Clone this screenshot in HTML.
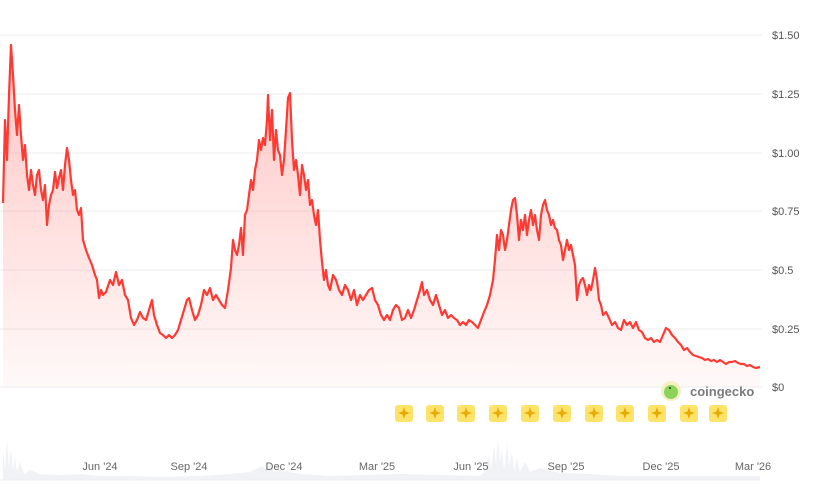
<!DOCTYPE html><html><head><style>body{margin:0;background:#fff}svg{display:block;font-family:"Liberation Sans",sans-serif}</style></head><body>
<svg width="813" height="504" viewBox="0 0 813 504">
<defs><linearGradient id="g" x1="0" y1="0" x2="0" y2="1"><stop offset="0" stop-color="#ff3a33" stop-opacity="0.3"/><stop offset="1" stop-color="#ff3a33" stop-opacity="0.03"/></linearGradient></defs>
<g stroke="#eceef1" stroke-width="1">
<line x1="0" y1="35" x2="762" y2="35"/><line x1="0" y1="94" x2="762" y2="94"/><line x1="0" y1="153" x2="762" y2="153"/><line x1="0" y1="211" x2="762" y2="211"/><line x1="0" y1="270" x2="762" y2="270"/><line x1="0" y1="329" x2="762" y2="329"/><line x1="0" y1="387" x2="762" y2="387"/>
</g>
<g fill="#555" font-size="11">
<text x="772" y="39">$1.50</text><text x="772" y="98">$1.25</text><text x="772" y="157">$1.00</text><text x="772" y="215">$0.75</text><text x="772" y="274">$0.5</text><text x="772" y="333">$0.25</text><text x="772" y="391">$0</text>
</g>
<polyline fill="url(#g)" stroke="none" points="3,387 3,203 5,120 7,160 9,95 11,45 13,75 15,110 17,135 19,105 21,135 23,160 25,145 27,175 29,190 31,170 33,185 35,195 37,175 39,170 41,190 43,200 45,185 47,225 49,205 51,195 53,190 55,172 57,188 59,178 61,170 63,190 65,165 67,148 69,160 71,180 73,195 75,190 77,210 79,215 81,208 83,240 86,250 89,258 92,265 95,275 97,280 99,298 101,290 103,295 106,292 110,280 113,285 116,272 119,285 122,280 125,295 128,300 131,318 134,325 137,320 140,312 143,318 146,320 149,310 152,300 154,315 157,325 160,333 163,335 166,338 169,335 172,338 175,335 178,330 181,320 184,310 187,300 189,298 192,310 195,320 198,315 201,305 204,290 207,295 210,288 213,300 216,295 219,300 222,305 225,308 228,290 231,268 233,240 235,250 237,255 239,245 241,228 243,255 245,215 247,210 249,195 251,180 253,190 255,170 257,160 259,140 261,150 263,138 265,145 267,120 268,95 270,140 272,110 274,160 276,130 278,150 280,155 282,175 284,160 286,130 288,98 290,93 292,140 294,170 296,160 298,175 300,195 302,165 304,175 306,190 308,180 310,205 312,200 314,215 316,225 318,210 320,240 322,262 324,280 326,270 328,285 330,290 333,275 336,280 339,290 342,295 345,285 348,290 351,300 354,290 357,305 360,295 363,300 366,295 369,290 372,288 375,300 378,305 381,315 384,320 387,315 390,320 393,310 396,305 399,308 402,320 405,318 408,310 411,318 414,310 417,300 420,290 422,282 424,295 427,290 430,300 433,305 436,295 439,305 442,315 445,310 448,318 451,315 454,318 457,320 460,325 463,322 466,325 469,320 472,322 475,325 478,328 481,320 484,312 487,305 490,295 493,280 495,260 497,235 499,250 501,230 503,235 505,250 507,240 509,225 511,210 513,200 515,198 517,215 519,240 521,220 523,230 525,215 527,235 529,220 531,210 533,225 535,215 537,230 539,240 541,215 543,205 545,200 547,210 549,215 551,225 553,220 555,228 557,230 559,240 561,245 563,260 565,250 567,240 569,250 571,245 573,255 575,265 577,300 579,285 581,280 583,278 585,285 587,295 589,285 591,290 593,280 595,268 597,280 599,300 601,305 603,315 606,312 609,318 612,325 615,322 618,328 621,330 624,320 627,325 630,322 633,328 636,322 639,330 642,332 645,338 648,340 651,338 654,342 657,340 660,342 663,335 666,328 669,330 672,335 675,338 678,342 681,345 684,350 687,348 690,352 693,355 696,356 699,357 702,358 705,360 708,359 711,361 714,360 717,362 720,360 723,362 726,364 729,362 732,362 735,361 738,363 741,364 744,364 747,366 750,365 753,367 756,368 760,367 760,387"/>
<polyline fill="none" stroke="#ff3a33" stroke-width="2.2" stroke-linejoin="round" points="3,203 5,120 7,160 9,95 11,45 13,75 15,110 17,135 19,105 21,135 23,160 25,145 27,175 29,190 31,170 33,185 35,195 37,175 39,170 41,190 43,200 45,185 47,225 49,205 51,195 53,190 55,172 57,188 59,178 61,170 63,190 65,165 67,148 69,160 71,180 73,195 75,190 77,210 79,215 81,208 83,240 86,250 89,258 92,265 95,275 97,280 99,298 101,290 103,295 106,292 110,280 113,285 116,272 119,285 122,280 125,295 128,300 131,318 134,325 137,320 140,312 143,318 146,320 149,310 152,300 154,315 157,325 160,333 163,335 166,338 169,335 172,338 175,335 178,330 181,320 184,310 187,300 189,298 192,310 195,320 198,315 201,305 204,290 207,295 210,288 213,300 216,295 219,300 222,305 225,308 228,290 231,268 233,240 235,250 237,255 239,245 241,228 243,255 245,215 247,210 249,195 251,180 253,190 255,170 257,160 259,140 261,150 263,138 265,145 267,120 268,95 270,140 272,110 274,160 276,130 278,150 280,155 282,175 284,160 286,130 288,98 290,93 292,140 294,170 296,160 298,175 300,195 302,165 304,175 306,190 308,180 310,205 312,200 314,215 316,225 318,210 320,240 322,262 324,280 326,270 328,285 330,290 333,275 336,280 339,290 342,295 345,285 348,290 351,300 354,290 357,305 360,295 363,300 366,295 369,290 372,288 375,300 378,305 381,315 384,320 387,315 390,320 393,310 396,305 399,308 402,320 405,318 408,310 411,318 414,310 417,300 420,290 422,282 424,295 427,290 430,300 433,305 436,295 439,305 442,315 445,310 448,318 451,315 454,318 457,320 460,325 463,322 466,325 469,320 472,322 475,325 478,328 481,320 484,312 487,305 490,295 493,280 495,260 497,235 499,250 501,230 503,235 505,250 507,240 509,225 511,210 513,200 515,198 517,215 519,240 521,220 523,230 525,215 527,235 529,220 531,210 533,225 535,215 537,230 539,240 541,215 543,205 545,200 547,210 549,215 551,225 553,220 555,228 557,230 559,240 561,245 563,260 565,250 567,240 569,250 571,245 573,255 575,265 577,300 579,285 581,280 583,278 585,285 587,295 589,285 591,290 593,280 595,268 597,280 599,300 601,305 603,315 606,312 609,318 612,325 615,322 618,328 621,330 624,320 627,325 630,322 633,328 636,322 639,330 642,332 645,338 648,340 651,338 654,342 657,340 660,342 663,335 666,328 669,330 672,335 675,338 678,342 681,345 684,350 687,348 690,352 693,355 696,356 699,357 702,358 705,360 708,359 711,361 714,360 717,362 720,360 723,362 726,364 729,362 732,362 735,361 738,363 741,364 744,364 747,366 750,365 753,367 756,368 760,367"/>
<polyline fill="#f0f2f5" stroke="none" points="3,480 3,450 5,470 7,440 9,468 11,448 13,470 15,458 17,472 20,462 24,474 30,470 40,474 60,475 80,474 100,476 130,476 160,477 200,476 230,474 250,472 262,466 266,470 270,462 274,472 280,470 300,474 330,476 400,474 440,475 480,476 486,470 489,455 491,470 494,445 496,465 498,438 500,462 502,450 504,470 507,444 509,466 512,452 514,470 517,458 520,472 525,462 530,472 540,468 560,473 590,474 620,476 700,476 760,476 760,480"/>
<line x1="0" y1="480" x2="760" y2="480" stroke="#eceef1"/>
<g fill="#666" font-size="11">
<text x="100" y="470" text-anchor="middle">Jun '24</text><text x="189" y="470" text-anchor="middle">Sep '24</text><text x="284" y="470" text-anchor="middle">Dec '24</text><text x="377" y="470" text-anchor="middle">Mar '25</text><text x="471" y="470" text-anchor="middle">Jun '25</text><text x="566" y="470" text-anchor="middle">Sep '25</text><text x="661" y="470" text-anchor="middle">Dec '25</text><text x="753" y="470" text-anchor="middle">Mar '26</text>
</g>
<g>
<g transform="translate(404,413)"><rect x="-9" y="-8" width="18" height="17" rx="3" fill="#fde36a"/><path d="M0,-6 L1.5,-1.5 L6,0 L1.5,1.5 L0,6 L-1.5,1.5 L-6,0 L-1.5,-1.5Z" fill="#e8a900"/></g>
<g transform="translate(435,413)"><rect x="-9" y="-8" width="18" height="17" rx="3" fill="#fde36a"/><path d="M0,-6 L1.5,-1.5 L6,0 L1.5,1.5 L0,6 L-1.5,1.5 L-6,0 L-1.5,-1.5Z" fill="#e8a900"/></g>
<g transform="translate(466,413)"><rect x="-9" y="-8" width="18" height="17" rx="3" fill="#fde36a"/><path d="M0,-6 L1.5,-1.5 L6,0 L1.5,1.5 L0,6 L-1.5,1.5 L-6,0 L-1.5,-1.5Z" fill="#e8a900"/></g>
<g transform="translate(498,413)"><rect x="-9" y="-8" width="18" height="17" rx="3" fill="#fde36a"/><path d="M0,-6 L1.5,-1.5 L6,0 L1.5,1.5 L0,6 L-1.5,1.5 L-6,0 L-1.5,-1.5Z" fill="#e8a900"/></g>
<g transform="translate(530,413)"><rect x="-9" y="-8" width="18" height="17" rx="3" fill="#fde36a"/><path d="M0,-6 L1.5,-1.5 L6,0 L1.5,1.5 L0,6 L-1.5,1.5 L-6,0 L-1.5,-1.5Z" fill="#e8a900"/></g>
<g transform="translate(562,413)"><rect x="-9" y="-8" width="18" height="17" rx="3" fill="#fde36a"/><path d="M0,-6 L1.5,-1.5 L6,0 L1.5,1.5 L0,6 L-1.5,1.5 L-6,0 L-1.5,-1.5Z" fill="#e8a900"/></g>
<g transform="translate(594,413)"><rect x="-9" y="-8" width="18" height="17" rx="3" fill="#fde36a"/><path d="M0,-6 L1.5,-1.5 L6,0 L1.5,1.5 L0,6 L-1.5,1.5 L-6,0 L-1.5,-1.5Z" fill="#e8a900"/></g>
<g transform="translate(625,413)"><rect x="-9" y="-8" width="18" height="17" rx="3" fill="#fde36a"/><path d="M0,-6 L1.5,-1.5 L6,0 L1.5,1.5 L0,6 L-1.5,1.5 L-6,0 L-1.5,-1.5Z" fill="#e8a900"/></g>
<g transform="translate(657,413)"><rect x="-9" y="-8" width="18" height="17" rx="3" fill="#fde36a"/><path d="M0,-6 L1.5,-1.5 L6,0 L1.5,1.5 L0,6 L-1.5,1.5 L-6,0 L-1.5,-1.5Z" fill="#e8a900"/></g>
<g transform="translate(689,413)"><rect x="-9" y="-8" width="18" height="17" rx="3" fill="#fde36a"/><path d="M0,-6 L1.5,-1.5 L6,0 L1.5,1.5 L0,6 L-1.5,1.5 L-6,0 L-1.5,-1.5Z" fill="#e8a900"/></g>
<g transform="translate(718,413)"><rect x="-9" y="-8" width="18" height="17" rx="3" fill="#fde36a"/><path d="M0,-6 L1.5,-1.5 L6,0 L1.5,1.5 L0,6 L-1.5,1.5 L-6,0 L-1.5,-1.5Z" fill="#e8a900"/></g>
</g>
<circle cx="671" cy="391" r="10" fill="#f6f0c0"/><circle cx="671" cy="392" r="7" fill="#8cd35c"/><circle cx="670" cy="388" r="1" fill="#333"/>
<text x="690" y="396" font-size="13" font-weight="bold" fill="#7b7b7b">coingecko</text>
</svg></body></html>
